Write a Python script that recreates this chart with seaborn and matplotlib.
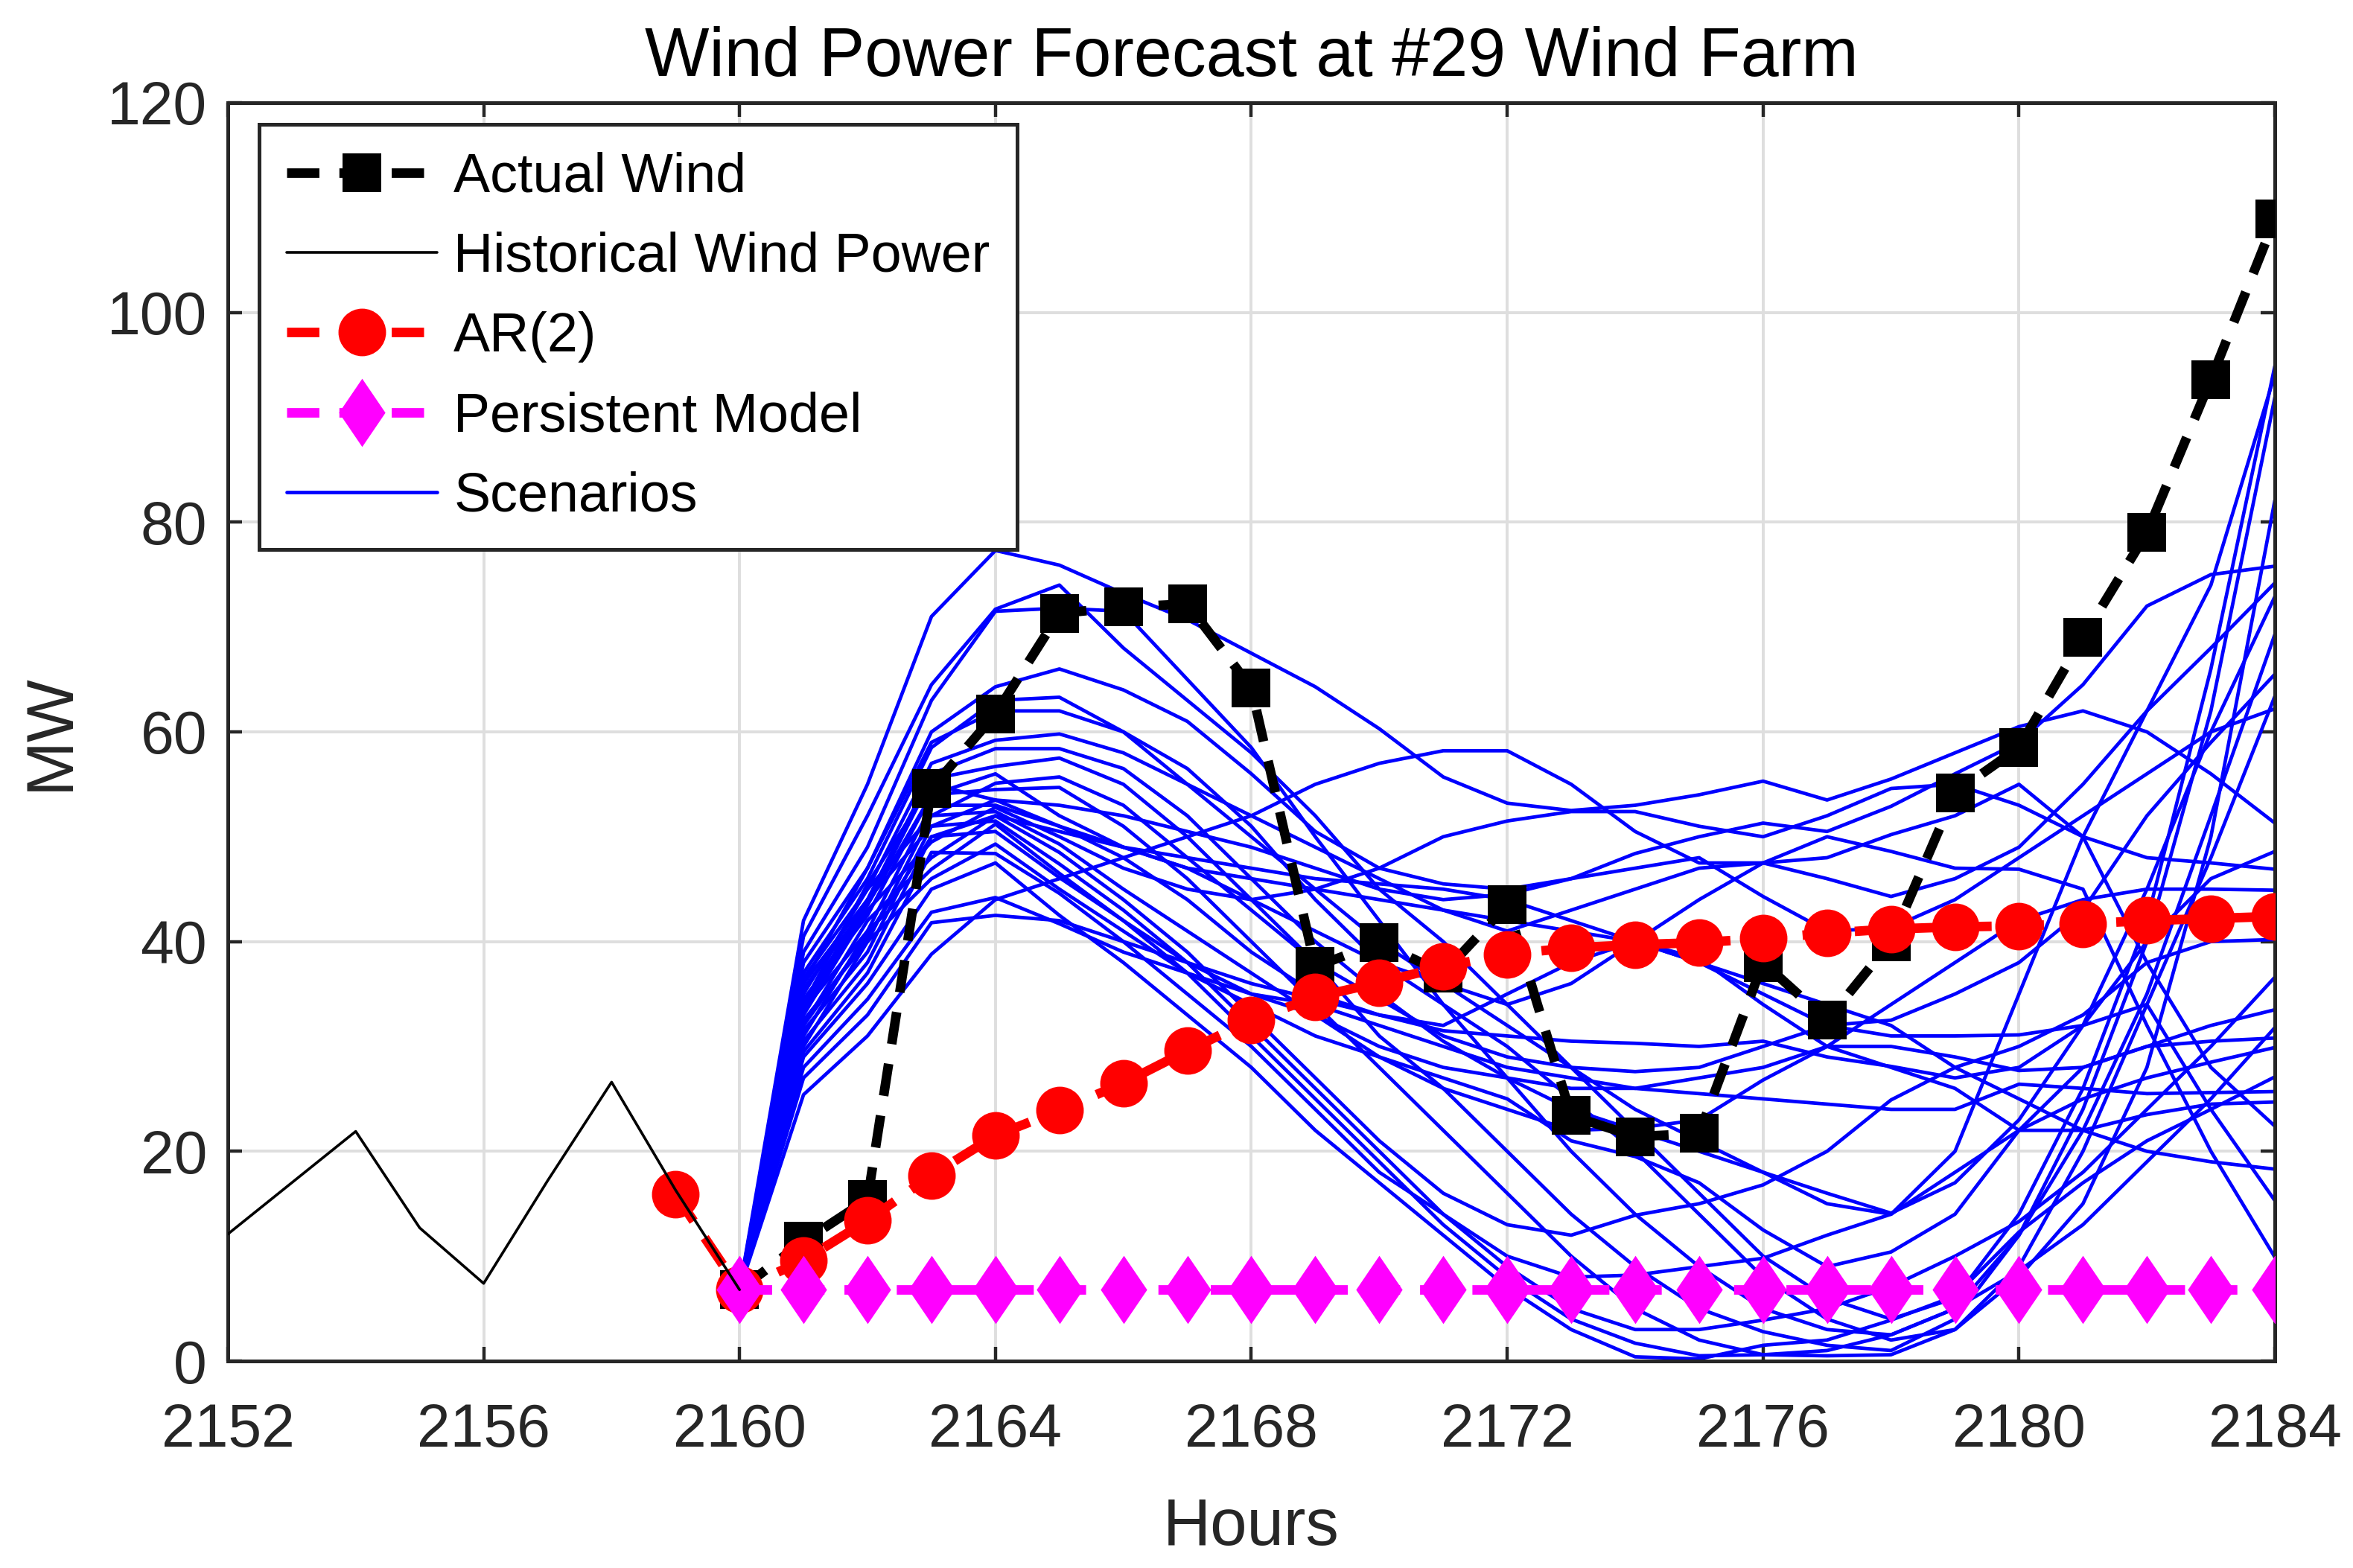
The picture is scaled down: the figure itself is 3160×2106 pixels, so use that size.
import matplotlib
matplotlib.use("Agg")
import matplotlib.pyplot as plt
import seaborn as sns
import pandas as pd
from matplotlib.lines import Line2D

# ---------------- data ----------------
hist_hours = [2152, 2153, 2154, 2155, 2156, 2157, 2158, 2159, 2160]
hist_mw = [12.1, 17.0, 21.9, 12.7, 7.4, 17.2, 26.6, 16.3, 6.8]

fc_hours = [2160, 2161, 2162, 2163, 2164, 2165, 2166, 2167, 2168, 2169, 2170, 2171, 2172,
            2173, 2174, 2175, 2176, 2177, 2178, 2179, 2180, 2181, 2182, 2183, 2184]
actual_mw = [6.8, 11.4, 15.4, 54.6, 61.7, 71.3, 71.9, 72.2, 64.2, 37.6, 39.9, 37.0, 43.5,
             23.4, 21.4, 21.7, 38.0, 32.5, 40.0, 54.2, 58.5, 69.0, 79.0, 93.6, 108.9]

ar_hours = [2159, 2160, 2161, 2162, 2163, 2164, 2165, 2166, 2167, 2168, 2169, 2170, 2171, 2172,
            2173, 2174, 2175, 2176, 2177, 2178, 2179, 2180, 2181, 2182, 2183, 2184]
ar_mw = [15.9, 6.8, 9.6, 13.4, 17.7, 21.5, 23.9, 26.5, 29.6, 32.5, 34.7, 36.1, 37.6, 38.8,
         39.4, 39.7, 39.9, 40.3, 40.8, 41.2, 41.4, 41.5, 41.7, 42.0, 42.2, 42.4]

persist_mw = [6.8, 6.8, 6.8, 6.8, 6.8, 6.8, 6.8, 6.8, 6.8, 6.8, 6.8, 6.8, 6.8,
              6.8, 6.8, 6.8, 6.8, 6.8, 6.8, 6.8, 6.8, 6.8, 6.8, 6.8, 6.8]

s01 = [6.8, 42.0, 55.0, 71.0, 77.3, 75.9, 73.2, 70.7, 67.5, 64.3, 60.3, 55.7, 53.2, 52.5, 53.0, 54.0, 55.3, 53.5, 55.5, 58.0, 60.5, 62.0, 60.0, 56.0, 51.3]
s02 = [6.8, 40.5, 52.0, 64.5, 71.7, 74.0, 68.0, 63.0, 58.0, 52.0, 45.0, 40.0, 34.0, 28.0, 22.0, 16.0, 10.0, 6.0, 4.0, 6.0, 14.0, 26.0, 42.0, 66.0, 94.9]
s03 = [6.8, 39.0, 49.0, 63.0, 71.5, 71.8, 71.5, 65.0, 58.5, 50.0, 42.0, 34.0, 27.0, 20.0, 14.0, 9.0, 5.0, 3.0, 2.5, 5.0, 12.0, 24.0, 40.0, 62.0, 91.9]
s04 = [6.8, 38.0, 47.0, 60.0, 64.3, 66.0, 64.0, 61.0, 56.0, 50.5, 47.0, 45.5, 45.0, 46.0, 48.4, 50.0, 51.3, 50.5, 52.9, 56.0, 59.0, 64.5, 72.0, 75.0, 75.8]
s05 = [6.8, 37.0, 46.0, 58.5, 63.0, 63.3, 60.0, 56.5, 51.0, 44.0, 38.0, 34.0, 30.0, 25.0, 20.0, 14.0, 8.0, 4.0, 2.0, 3.0, 8.0, 15.0, 28.0, 50.0, 82.1]
s06 = [6.8, 36.5, 45.0, 57.0, 59.2, 59.8, 58.0, 55.0, 52.0, 49.0, 46.0, 43.0, 41.0, 43.0, 45.0, 47.0, 47.5, 46.0, 44.3, 46.0, 49.0, 55.0, 62.0, 68.0, 74.2]
s07 = [6.8, 36.0, 44.0, 56.0, 58.4, 58.4, 56.5, 52.0, 46.0, 40.0, 35.0, 30.5, 27.0, 24.0, 22.0, 20.0, 18.0, 16.0, 14.1, 17.0, 23.0, 32.0, 45.0, 60.0, 72.9]
s08 = [6.8, 35.5, 43.5, 55.5, 56.7, 57.5, 55.0, 50.0, 44.0, 38.0, 31.0, 26.0, 20.0, 14.0, 9.0, 5.0, 2.8, 1.5, 1.0, 4.0, 12.0, 22.0, 35.0, 52.0, 69.3]
s09 = [6.8, 35.0, 45.0, 52.0, 55.1, 55.7, 53.0, 48.0, 43.0, 38.0, 34.5, 31.0, 29.0, 28.0, 27.6, 28.0, 30.0, 32.0, 32.5, 35.0, 38.0, 43.0, 52.0, 59.0, 65.5]
s10 = [6.8, 34.5, 42.5, 54.0, 54.5, 54.7, 51.0, 46.0, 40.0, 34.0, 28.0, 22.0, 16.0, 10.0, 5.0, 2.0, 0.6, 0.5, 0.6, 3.0, 9.0, 20.0, 34.0, 48.0, 63.4]
s11 = [6.8, 34.0, 44.0, 51.0, 53.5, 53.0, 52.0, 50.5, 49.0, 47.0, 45.0, 44.0, 44.5, 46.0, 47.0, 48.0, 44.3, 41.0, 41.3, 44.0, 48.0, 52.0, 56.0, 60.0, 62.2]
s12 = [6.8, 33.5, 41.0, 53.0, 53.0, 51.0, 48.0, 44.0, 39.0, 35.0, 33.0, 31.5, 31.0, 30.5, 30.3, 30.0, 30.5, 29.0, 28.1, 27.0, 28.0, 32.0, 40.0, 46.0, 48.6]
s13 = [6.8, 33.0, 43.0, 49.5, 52.8, 50.0, 47.0, 45.0, 44.0, 45.0, 47.0, 50.0, 51.5, 52.4, 52.4, 51.0, 50.0, 52.0, 54.6, 55.0, 53.0, 50.0, 48.0, 47.5, 46.9]
s14 = [6.8, 32.5, 40.0, 52.0, 52.4, 49.3, 45.0, 41.0, 37.0, 33.0, 29.0, 26.0, 24.0, 22.0, 22.2, 23.0, 26.8, 30.0, 34.0, 38.0, 42.0, 44.0, 45.0, 45.0, 44.9]
s15 = [6.8, 32.0, 42.0, 48.0, 52.0, 48.5, 44.0, 39.0, 33.0, 27.0, 21.0, 16.0, 13.0, 12.0, 13.9, 15.0, 16.8, 20.0, 24.9, 28.0, 30.0, 33.0, 38.0, 40.0, 40.2]
s16 = [6.8, 31.5, 39.0, 51.0, 51.5, 47.4, 43.0, 38.0, 32.0, 26.0, 20.0, 14.0, 9.0, 5.0, 3.0, 3.0, 3.9, 5.0, 7.1, 10.0, 13.3, 18.0, 24.0, 30.0, 36.6]
s17 = [6.8, 31.0, 41.0, 46.9, 51.2, 46.5, 42.0, 38.0, 35.0, 33.0, 30.0, 28.0, 27.0, 26.0, 26.0, 27.0, 28.0, 30.0, 30.0, 29.0, 27.7, 28.0, 30.0, 32.0, 33.5]
s18 = [6.8, 30.5, 38.0, 50.0, 50.5, 46.1, 42.0, 37.0, 31.0, 25.0, 19.0, 13.0, 8.0, 4.0, 1.7, 0.5, 0.6, 1.0, 2.5, 5.0, 8.6, 13.0, 19.0, 25.0, 31.8]
s19 = [6.8, 30.0, 40.0, 46.0, 49.3, 45.0, 41.0, 37.0, 34.0, 31.0, 29.0, 27.0, 25.0, 21.0, 19.5, 17.0, 12.5, 9.0, 10.4, 14.0, 22.0, 28.0, 30.0, 30.5, 30.8]
s20 = [6.8, 29.5, 37.0, 48.5, 48.4, 44.6, 40.0, 35.0, 30.0, 24.0, 18.0, 14.0, 10.0, 8.0, 8.2, 9.0, 9.8, 12.0, 14.0, 18.0, 22.0, 25.0, 27.0, 28.5, 29.9]
s21 = [6.8, 29.0, 36.0, 45.0, 47.5, 42.5, 38.0, 33.0, 28.0, 22.0, 17.0, 12.0, 7.0, 3.0, 0.4, 0.2, 1.5, 2.0, 3.9, 6.2, 12.3, 17.0, 21.0, 24.0, 27.1]
s22 = [6.8, 28.0, 34.5, 42.8, 44.2, 41.7, 39.0, 37.0, 35.0, 34.0, 32.0, 30.0, 28.0, 27.0, 26.0, 25.5, 25.0, 24.5, 24.0, 24.0, 26.4, 26.0, 25.5, 25.6, 25.7]
s23 = [6.8, 27.0, 33.0, 41.8, 42.5, 42.0, 40.0, 38.0, 36.0, 34.5, 33.0, 32.0, 35.0, 38.0, 40.0, 38.4, 34.0, 30.0, 28.0, 26.0, 22.0, 22.0, 23.5, 24.5, 24.7]
s24 = [6.8, 25.4, 31.0, 38.8, 44.0, 46.0, 48.0, 50.0, 52.0, 55.0, 57.0, 58.2, 58.2, 55.0, 50.5, 47.5, 47.5, 48.0, 50.2, 52.0, 55.0, 50.0, 38.0, 28.0, 22.4]
s25 = [6.8, 33.5, 43.5, 54.0, 56.0, 52.0, 49.0, 47.0, 46.0, 45.0, 44.0, 43.0, 42.0, 41.0, 40.0, 38.0, 36.0, 34.0, 32.0, 28.0, 25.0, 22.0, 20.0, 19.0, 18.3]
s26 = [6.8, 32.0, 40.5, 50.0, 52.0, 50.5, 49.0, 48.0, 47.0, 46.0, 45.5, 45.0, 44.0, 42.0, 40.0, 38.0, 35.0, 32.0, 31.0, 31.0, 31.1, 32.0, 34.0, 24.0, 15.3]
s27 = [6.8, 34.0, 45.5, 55.0, 53.5, 51.0, 49.0, 47.0, 44.0, 41.0, 38.0, 36.0, 34.0, 36.0, 40.0, 44.0, 47.5, 50.0, 48.6, 47.0, 46.9, 45.0, 32.0, 20.0, 9.9]
s28 = [6.8, 36.0, 47.0, 59.0, 62.0, 62.0, 60.0, 55.0, 50.0, 45.0, 40.0, 36.0, 32.0, 28.0, 24.0, 21.0, 18.0, 15.0, 14.0, 20.0, 35.0, 50.0, 62.0, 74.0, 94.1]

scenarios = [s01, s02, s03, s04, s05, s06, s07, s08, s09, s10, s11, s12, s13, s14,
             s15, s16, s17, s18, s19, s20, s21, s22, s23, s24, s25, s26, s27, s28]

x_ticks = [2152, 2156, 2160, 2164, 2168, 2172, 2176, 2180, 2184]
y_ticks = [0, 20, 40, 60, 80, 100, 120]

title = "Wind Power Forecast at #29 Wind Farm"
legend_labels = ["Actual Wind", "Historical Wind Power", "AR(2)", "Persistent Model", "Scenarios"]

# ---------------- style ----------------
sns.set_theme(style="whitegrid")
plt.rcParams["font.family"] = ["Liberation Sans", "DejaVu Sans"]
AX_COL = "#262626"

fig = plt.figure(figsize=(15.8, 10.53), dpi=200)
ax = fig.add_axes([0.0968, 0.1320, 0.8700, 0.8025])
ax.set_facecolor("white")

rows = []
for i, s in enumerate(scenarios):
    for h, v in zip(fc_hours, s):
        rows.append({"hour": h, "mw": v, "scen": i})
df_sc = pd.DataFrame(rows)

sns.lineplot(data=df_sc, x="hour", y="mw", units="scen", estimator=None,
             color=(0, 0, 1), linewidth=1.7, legend=False, ax=ax, zorder=2)

diamond = [(0, 1), (0.68, 0), (0, -1), (-0.68, 0)]
dash_style = (3.4, 2.1)
LW = 4.6
SQ, CI, DI = 19, 23, 33

df_act = pd.DataFrame({"hour": fc_hours, "mw": actual_mw})
sns.lineplot(data=df_act, x="hour", y="mw", ax=ax, color="black", linewidth=LW,
             marker="s", markersize=SQ, markeredgewidth=0, zorder=3)
ax.lines[-1].set_dashes(dash_style)

df_ar = pd.DataFrame({"hour": ar_hours, "mw": ar_mw})
sns.lineplot(data=df_ar, x="hour", y="mw", ax=ax, color=(1, 0, 0), linewidth=LW,
             marker="o", markersize=CI, markeredgewidth=0, zorder=4)
ax.lines[-1].set_dashes(dash_style)

df_pm = pd.DataFrame({"hour": fc_hours, "mw": persist_mw})
sns.lineplot(data=df_pm, x="hour", y="mw", ax=ax, color=(1, 0, 1), linewidth=LW,
             marker=diamond, markersize=DI, markeredgewidth=0, zorder=5)
ax.lines[-1].set_dashes(dash_style)

df_hist = pd.DataFrame({"hour": hist_hours, "mw": hist_mw})
sns.lineplot(data=df_hist, x="hour", y="mw", ax=ax, color="black", linewidth=1.3,
             zorder=6)

ax.set_xlim(2152, 2184)
ax.set_ylim(0, 120)
ax.set_xticks(x_ticks)
ax.set_yticks(y_ticks)
ax.set_xticklabels([str(t) for t in x_ticks])
ax.set_yticklabels([str(t) for t in y_ticks])
ax.grid(True, color="#dedede", linewidth=1.4)
ax.set_axisbelow(True)
for sp in ax.spines.values():
    sp.set_visible(True)
    sp.set_color(AX_COL)
    sp.set_linewidth(1.8)
ax.tick_params(axis="both", direction="in", length=7, width=1.6, color=AX_COL,
               labelcolor=AX_COL, labelsize=29, top=True, right=True,
               bottom=True, left=True)
ax.tick_params(axis="x", pad=20)
ax.tick_params(axis="y", pad=10)

ax.set_xlabel("Hours", fontsize=32, color=AX_COL, labelpad=18)
ax.set_ylabel("MW", fontsize=32, color=AX_COL, labelpad=12)
ax.set_title(title, fontsize=33, color="black", pad=13)

handles = [
    Line2D([], [], color="black", linewidth=LW, dashes=dash_style, marker="s",
           markersize=SQ, markeredgewidth=0),
    Line2D([], [], color="black", linewidth=1.3),
    Line2D([], [], color=(1, 0, 0), linewidth=LW, dashes=dash_style, marker="o",
           markersize=CI, markeredgewidth=0),
    Line2D([], [], color=(1, 0, 1), linewidth=LW, dashes=dash_style, marker=diamond,
           markersize=DI, markeredgewidth=0),
    Line2D([], [], color=(0, 0, 1), linewidth=1.7),
]
leg = ax.legend(handles, legend_labels, loc="upper left",
                bbox_to_anchor=(0.0153, 0.983), fontsize=26.5, frameon=True,
                fancybox=False, framealpha=1, edgecolor=AX_COL,
                handlelength=2.75, handletextpad=0.3, labelspacing=0.52,
                borderpad=0.5, borderaxespad=0.0)
leg.get_frame().set_linewidth(1.8)
leg.set_zorder(10)
for t in leg.get_texts():
    t.set_color("black")

fig.savefig("out.png", dpi=200, facecolor="white")
